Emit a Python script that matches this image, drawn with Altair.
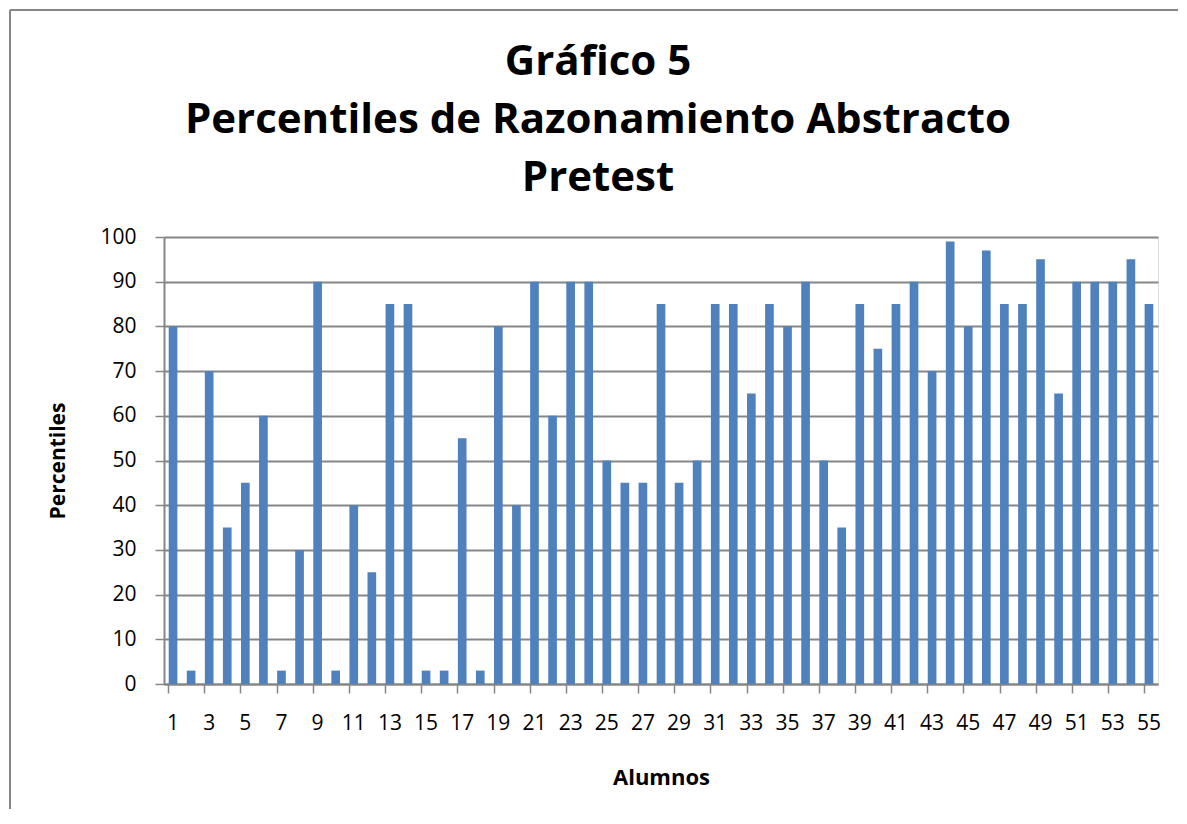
import altair as alt
import pandas as pd

alumnos = [str(i) for i in range(1, 56)]
percentiles = [80, 3, 70, 35, 45, 60, 3, 30, 90, 3,
               40, 25, 85, 85, 3, 3, 55, 3, 80, 40,
               90, 60, 90, 90, 50, 45, 45, 85, 45, 50,
               85, 85, 65, 85, 80, 90, 50, 35, 85, 75,
               85, 90, 70, 99, 80, 97, 85, 85, 95, 65,
               90, 90, 90, 95, 85]
tick_labels = [str(i) for i in range(1, 56, 2)]
y_ticks = list(range(0, 101, 10))
title_lines = ["Gráfico 5", "Percentiles de Razonamiento Abstracto", "Pretest"]

df = pd.DataFrame({"Alumno": alumnos, "Percentil": percentiles})

FONT = "Open Sans"
GRAY = "#868686"

bars = alt.Chart(df).mark_bar(color="#4F81BD").encode(
    x=alt.X("Alumno:N", sort=alumnos,
            scale=alt.Scale(paddingInner=0.52, paddingOuter=0.26),
            axis=alt.Axis(values=tick_labels, bandPosition=0, labelOffset=0,
                          labelAngle=0, labelFontSize=21, labelFont=FONT,
                          labelColor="#000000", labelPadding=19,
                          tickSize=9, tickColor=GRAY, tickWidth=1.5,
                          domainColor=GRAY, domainWidth=2,
                          title="Alumnos", titleFont=FONT, titleFontSize=22,
                          titleFontWeight="bold", titleColor="#000000",
                          titlePadding=34)),
    y=alt.Y("Percentil:Q", scale=alt.Scale(domain=[0, 100], nice=False),
            axis=alt.Axis(values=y_ticks, labelFontSize=21, labelFont=FONT,
                          labelColor="#000000", labelPadding=19,
                          tickSize=9, tickColor=GRAY, tickWidth=1.5,
                          domainColor=GRAY, domainWidth=2,
                          grid=True, gridColor=GRAY, gridWidth=2,
                          title="Percentiles", titleFont=FONT, titleFontSize=21,
                          titleFontWeight="bold", titleColor="#000000",
                          titlePadding=31)),
)

frame_left = alt.Chart(df).mark_rule(color=GRAY, strokeWidth=2).encode(
    x=alt.value(-154), y=alt.value(-227), y2=alt.value(700))
frame_top = alt.Chart(df).mark_rule(color=GRAY, strokeWidth=2).encode(
    x=alt.value(-154), x2=alt.value(1100), y=alt.value(-227))

chart = alt.layer(bars, frame_left, frame_top).properties(
    width=994, height=447,
    autosize=alt.AutoSizeParams(type="none"),
    padding={"left": 156, "top": 229, "right": 20, "bottom": 125},
    title=alt.TitleParams(text=title_lines, font=FONT, fontSize=42,
                          fontWeight="bold", color="#000000", lineHeight=58,
                          anchor="middle", dx=-63, dy=231, offset=40),
).configure_view(stroke=None).configure(background="#ffffff")

chart.save("out.html", embed_options={"renderer": "svg", "actions": False})
